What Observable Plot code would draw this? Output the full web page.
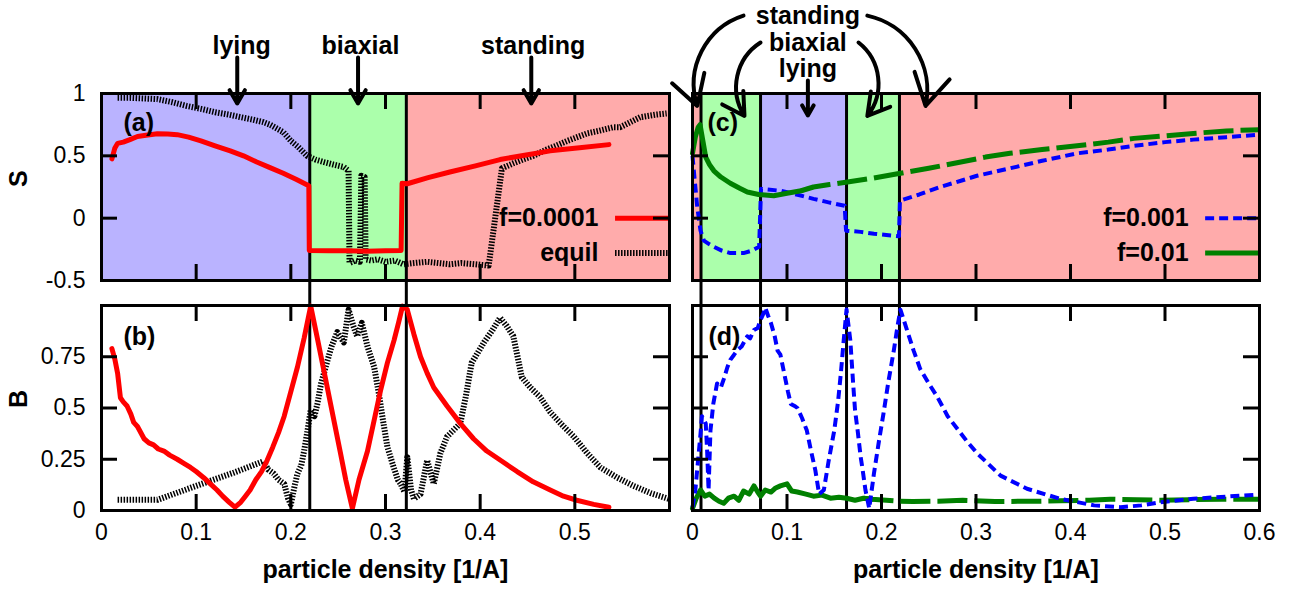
<!DOCTYPE html>
<html><head><meta charset="utf-8">
<script src="https://cdn.jsdelivr.net/npm/d3@7"></script>
<script src="https://cdn.jsdelivr.net/npm/@observablehq/plot@0.6"></script>
<style>
html,body{margin:0;padding:0;background:#fff;}
#fig{position:relative;width:1296px;height:595px;overflow:hidden;background:#fff;}
#fig svg{position:absolute;}
</style></head>
<body><div id="fig"></div>
<script>
// ---------- data ----------
const phaseColors = {lying:"#bab3ff", biaxial:"#abffab", standing:"#ffabab"};
const leftPhases = [{phase:"lying",x1:0,x2:0.22},{phase:"biaxial",x1:0.22,x2:0.322},{phase:"standing",x1:0.322,x2:0.6}];
const rightPhases = [{phase:"standing",x1:0,x2:0.009},{phase:"biaxial",x1:0.009,x2:0.072},{phase:"lying",x1:0.072,x2:0.163},{phase:"biaxial",x1:0.163,x2:0.219},{phase:"standing",x1:0.219,x2:0.6}];
const leftBounds = [0.22, 0.322];
const rightBounds = [0.009, 0.072, 0.163, 0.219];

const xTicksLeft = [0,0.1,0.2,0.3,0.4,0.5];
const xTicksRight = [0,0.1,0.2,0.3,0.4,0.5,0.6];
const sTicks = [-0.5,0,0.5,1];
const bTicks = [0,0.25,0.5,0.75];

// (a) S, f=0.0001
const redS = [[0.011,0.476],[0.014,0.56],[0.017,0.60],[0.023,0.61],[0.030,0.63],[0.038,0.655],[0.047,0.665],[0.059,0.677],[0.070,0.675],[0.080,0.67],[0.092,0.65],[0.105,0.62],[0.120,0.58],[0.136,0.54],[0.150,0.50],[0.164,0.45],[0.178,0.405],[0.192,0.36],[0.206,0.31],[0.219,0.26],[0.2195,-0.26],[0.240,-0.262],[0.260,-0.262],[0.280,-0.265],[0.300,-0.262],[0.3165,-0.26],[0.3175,0.28],[0.323,0.276],[0.345,0.325],[0.368,0.37],[0.395,0.42],[0.421,0.47],[0.447,0.505],[0.474,0.54],[0.505,0.565],[0.536,0.59]];
// (a) S, equil
const equilS = [[0.017,0.965],[0.030,0.965],[0.045,0.96],[0.059,0.955],[0.075,0.93],[0.090,0.90],[0.105,0.877],[0.120,0.85],[0.135,0.83],[0.147,0.81],[0.160,0.79],[0.171,0.77],[0.178,0.75],[0.185,0.72],[0.192,0.69],[0.200,0.62],[0.208,0.57],[0.217,0.50],[0.226,0.47],[0.235,0.45],[0.245,0.43],[0.256,0.41],[0.261,0.38],[0.262,-0.36],[0.268,-0.34],[0.273,-0.35],[0.2745,0.34],[0.278,0.33],[0.279,-0.33],[0.285,-0.34],[0.292,-0.33],[0.300,-0.35],[0.310,-0.34],[0.319,-0.37],[0.330,-0.36],[0.344,-0.35],[0.356,-0.36],[0.368,-0.37],[0.380,-0.36],[0.395,-0.37],[0.409,-0.38],[0.423,0.40],[0.435,0.44],[0.445,0.47],[0.456,0.50],[0.470,0.55],[0.480,0.58],[0.492,0.62],[0.513,0.68],[0.525,0.70],[0.541,0.73],[0.548,0.73],[0.556,0.76],[0.569,0.81],[0.585,0.83],[0.597,0.84]];
// (b) B, f=0.0001
const redB = [[0.011,0.79],[0.014,0.74],[0.017,0.67],[0.020,0.55],[0.023,0.53],[0.027,0.51],[0.031,0.47],[0.034,0.43],[0.038,0.41],[0.045,0.35],[0.050,0.33],[0.055,0.32],[0.060,0.30],[0.066,0.29],[0.072,0.27],[0.080,0.25],[0.087,0.23],[0.094,0.21],[0.100,0.19],[0.108,0.16],[0.115,0.13],[0.122,0.10],[0.128,0.07],[0.135,0.04],[0.141,0.016],[0.147,0.04],[0.152,0.07],[0.157,0.10],[0.163,0.15],[0.169,0.19],[0.175,0.245],[0.181,0.31],[0.187,0.38],[0.193,0.46],[0.200,0.58],[0.207,0.70],[0.214,0.84],[0.221,0.997],[0.228,0.84],[0.235,0.68],[0.242,0.52],[0.252,0.29],[0.258,0.15],[0.265,0.01],[0.272,0.15],[0.281,0.29],[0.288,0.44],[0.295,0.59],[0.302,0.72],[0.309,0.83],[0.314,0.92],[0.318,0.997],[0.323,0.98],[0.330,0.86],[0.337,0.75],[0.344,0.67],[0.351,0.60],[0.365,0.51],[0.379,0.425],[0.393,0.35],[0.407,0.29],[0.423,0.24],[0.439,0.19],[0.456,0.14],[0.474,0.10],[0.488,0.07],[0.502,0.05],[0.520,0.03],[0.536,0.016]];
// (b) B, equil
const equilB = [[0.017,0.052],[0.059,0.052],[0.100,0.12],[0.140,0.185],[0.171,0.24],[0.176,0.20],[0.182,0.18],[0.187,0.15],[0.193,0.13],[0.197,0.06],[0.200,0.03],[0.204,0.12],[0.207,0.18],[0.211,0.22],[0.214,0.29],[0.218,0.40],[0.221,0.49],[0.225,0.46],[0.228,0.52],[0.232,0.62],[0.238,0.72],[0.243,0.80],[0.249,0.87],[0.256,0.82],[0.261,0.98],[0.266,0.90],[0.270,0.85],[0.275,0.915],[0.281,0.80],[0.288,0.70],[0.293,0.57],[0.297,0.45],[0.302,0.31],[0.308,0.22],[0.313,0.15],[0.316,0.13],[0.320,0.09],[0.323,0.26],[0.327,0.10],[0.330,0.057],[0.337,0.08],[0.344,0.245],[0.351,0.13],[0.358,0.28],[0.365,0.36],[0.379,0.425],[0.385,0.56],[0.391,0.72],[0.404,0.82],[0.413,0.88],[0.421,0.94],[0.428,0.90],[0.435,0.85],[0.444,0.65],[0.453,0.60],[0.463,0.555],[0.474,0.48],[0.486,0.42],[0.499,0.36],[0.513,0.28],[0.527,0.21],[0.545,0.16],[0.562,0.12],[0.580,0.085],[0.599,0.057]];
// (c) S, f=0.001
const blueS = [[0,0.50],[0.0014,0.38],[0.005,0.09],[0.0085,-0.10],[0.012,-0.18],[0.018,-0.21],[0.0226,-0.23],[0.031,-0.26],[0.040,-0.28],[0.054,-0.28],[0.063,-0.26],[0.0705,-0.23],[0.0725,0.235],[0.093,0.22],[0.110,0.19],[0.128,0.155],[0.145,0.125],[0.161,0.10],[0.1625,-0.10],[0.178,-0.11],[0.192,-0.125],[0.205,-0.135],[0.2185,-0.145],[0.2195,0.14],[0.240,0.19],[0.262,0.25],[0.284,0.30],[0.301,0.34],[0.336,0.40],[0.370,0.46],[0.407,0.52],[0.440,0.55],[0.467,0.58],[0.500,0.61],[0.530,0.63],[0.565,0.65],[0.600,0.67]];
// (c) S, f=0.01
const greenS = [[0,0.52],[0.003,0.65],[0.006,0.73],[0.008,0.75],[0.011,0.62],[0.014,0.49],[0.018,0.43],[0.0226,0.38],[0.030,0.33],[0.040,0.28],[0.050,0.24],[0.058,0.21],[0.070,0.19],[0.086,0.18],[0.100,0.20],[0.115,0.22],[0.128,0.25],[0.145,0.27],[0.164,0.29],[0.190,0.32],[0.217,0.356],[0.250,0.40],[0.284,0.45],[0.310,0.49],[0.336,0.52],[0.370,0.55],[0.407,0.58],[0.440,0.61],[0.467,0.64],[0.500,0.66],[0.530,0.68],[0.565,0.70],[0.600,0.71]];
// (d) B, f=0.001
const blueB = [[0,0.016],[0.003,0.10],[0.0085,0.375],[0.010,0.46],[0.014,0.425],[0.0155,0.29],[0.017,0.10],[0.019,0.39],[0.022,0.52],[0.026,0.62],[0.030,0.60],[0.033,0.64],[0.037,0.70],[0.040,0.735],[0.044,0.76],[0.047,0.78],[0.052,0.80],[0.058,0.85],[0.061,0.84],[0.065,0.88],[0.069,0.89],[0.072,0.93],[0.075,0.96],[0.077,0.99],[0.080,0.95],[0.083,0.915],[0.087,0.85],[0.090,0.78],[0.093,0.76],[0.097,0.67],[0.101,0.58],[0.104,0.52],[0.108,0.51],[0.111,0.50],[0.116,0.45],[0.121,0.39],[0.125,0.30],[0.130,0.196],[0.134,0.08],[0.139,0.10],[0.144,0.24],[0.150,0.39],[0.154,0.53],[0.157,0.67],[0.160,0.83],[0.163,0.98],[0.167,0.83],[0.170,0.62],[0.172,0.49],[0.175,0.38],[0.178,0.26],[0.180,0.20],[0.183,0.10],[0.187,0.01],[0.192,0.18],[0.197,0.33],[0.202,0.47],[0.207,0.62],[0.213,0.78],[0.217,0.90],[0.220,0.98],[0.227,0.88],[0.234,0.78],[0.241,0.69],[0.250,0.62],[0.259,0.555],[0.270,0.46],[0.280,0.40],[0.290,0.34],[0.301,0.28],[0.326,0.17],[0.354,0.106],[0.389,0.057],[0.425,0.025],[0.453,0.016],[0.475,0.025],[0.495,0.04],[0.530,0.057],[0.565,0.068],[0.600,0.078]];
// (d) B, f=0.01
const greenB = [[0,0.01],[0.004,0.06],[0.0085,0.10],[0.013,0.07],[0.018,0.08],[0.023,0.06],[0.028,0.045],[0.033,0.035],[0.038,0.06],[0.044,0.07],[0.049,0.05],[0.054,0.095],[0.060,0.08],[0.065,0.12],[0.069,0.09],[0.072,0.07],[0.077,0.10],[0.083,0.09],[0.088,0.11],[0.093,0.12],[0.100,0.13],[0.105,0.095],[0.111,0.09],[0.120,0.08],[0.128,0.07],[0.137,0.075],[0.146,0.06],[0.155,0.065],[0.163,0.06],[0.172,0.05],[0.181,0.06],[0.190,0.055],[0.205,0.05],[0.220,0.045],[0.233,0.044],[0.260,0.045],[0.286,0.05],[0.320,0.044],[0.360,0.045],[0.389,0.047],[0.420,0.05],[0.442,0.055],[0.470,0.052],[0.495,0.05],[0.530,0.053],[0.560,0.055],[0.600,0.055]];

// annotations (data units)
const leftPhaseLabels = [{label:"lying",x:0.148},{label:"biaxial",x:0.2735},{label:"standing",x:0.456}];
const leftPhaseArrows = [{x:0.1434},{x:0.271},{x:0.454}];
const rightPhaseLabels = [{label:"standing",y:1.625},{label:"biaxial",y:1.409},{label:"lying",y:1.20}];
const rightLabelX = 0.1221;
const rightArrowsLeft = [{x1:0.054,y1:1.625,x2:0.005,y2:0.90},{x1:0.072,y1:1.409,x2:0.055,y2:0.82}];
const rightArrowsRight = [{x1:0.185,y1:1.625,x2:0.2466,y2:0.90},{x1:0.1757,y1:1.409,x2:0.185,y2:0.82}];
const rightArrowStraight = [{x:0.1221,y1:1.104,y2:0.824}];

const legendLeft = [{label:"f=0.0001",y:0.0,stroke:"#ff0000",width:5,dash:null},{label:"equil",y:-0.28,stroke:"#000",width:6,dash:"1.5,1.5"}];
const legendRight = [{label:"f=0.001",y:0.0,stroke:"#0000ff",width:4,dash:"9,5"},{label:"f=0.01",y:-0.28,stroke:"#008000",width:5,dash:null}];

// ---------- helpers ----------
const FONT = '"Liberation Sans", Arial, Helvetica, sans-serif';
const fig = document.getElementById("fig");
const XY = {x: d => d[0], y: d => d[1]};
const TICK = 16;

// inward ticks on all four sides
function tickMarks(xt, yt, fw, fh) {
  const o = {strokeWidth: 3, stroke: "#000", strokeLinecap: "butt"};
  return [
    Plot.tickX(xt, {...o, x: d => d, insetTop: fh - TICK}),
    Plot.tickX(xt, {...o, x: d => d, insetBottom: fh - TICK}),
    Plot.tickY(yt, {...o, y: d => d, insetRight: fw - TICK}),
    Plot.tickY(yt, {...o, y: d => d, insetLeft: fw - TICK})
  ];
}
function phaseRects(phases) {
  return Object.keys(phaseColors).map(p =>
    Plot.rect(phases.filter(d => d.phase === p), {x1: "x1", x2: "x2", fill: phaseColors[p]}));
}
function legend(entries) {
  return [
    Plot.text(entries, {x: 0.525, y: "y", text: "label", textAnchor: "end", fontWeight: "bold", fontSize: 25}),
    ...entries.map(e => Plot.ruleY([e], {y: "y", x1: 0.543, x2: 0.599, stroke: e.stroke, strokeWidth: e.width, strokeDasharray: e.dash, strokeLinecap: "butt"}))
  ];
}
function panel({left, top, width, height, mt, mb, ml, mr, yDomain, xt, yt, marks}) {
  const fw = width - ml - mr, fh = height - mt - mb;
  const svg = Plot.plot({
    width, height, marginTop: mt, marginBottom: mb, marginLeft: ml, marginRight: mr,
    x: {domain: [0, 0.6], axis: null},
    y: {domain: yDomain, axis: null},
    style: {fontFamily: FONT, fontSize: "23px", background: "transparent", overflow: "visible", color: "#000"},
    marks: [...marks, Plot.frame({strokeWidth: 3}), ...tickMarks(xt, yt, fw, fh)]
  });
  svg.style.position = "absolute";
  svg.style.left = left + "px";
  svg.style.top = top + "px";
  fig.appendChild(svg);
}
const arrowStyle = {stroke: "#000", strokeWidth: 4, headLength: 14, headAngle: 60};
const bold = {fontWeight: "bold", fontSize: 25};

// ---------- (a) ----------
panel({left: 0, top: 0, width: 680, height: 292, mt: 93, mb: 12, ml: 101, mr: 11, yDomain: [-0.5, 1], xt: xTicksLeft, yt: sTicks, marks: [
  ...phaseRects(leftPhases),
  Plot.ruleX(leftBounds, {strokeWidth: 3, insetBottom: -12}),
  Plot.line(equilS, {...XY, stroke: "#000", strokeWidth: 6, strokeDasharray: "1.5,1.5", strokeLinecap: "butt"}),
  Plot.line(redS, {...XY, stroke: "#ff0000", strokeWidth: 5}),
  Plot.axisY({ticks: sTicks, anchor: "left", tickSize: 0, tickPadding: 16, tickFormat: d => String(d), fontSize: 23, label: null}),
  Plot.text(["S"], {text: d => d, frameAnchor: "left", dx: -83, rotate: -90, ...bold}),
  Plot.text(["(a)"], {text: d => d, frameAnchor: "top-left", dx: 22, dy: 20, textAnchor: "start", ...bold}),
  ...legend(legendLeft),
  Plot.text(leftPhaseLabels, {x: "x", y: 1.385, text: "label", ...bold}),
  Plot.arrow(leftPhaseArrows, {x: "x", y1: 1.289, y2: 0.92, ...arrowStyle})
]});

// ---------- (b) ----------
panel({left: 0, top: 292, width: 680, height: 303, mt: 13, mb: 85, ml: 101, mr: 11, yDomain: [0, 1], xt: xTicksLeft, yt: bTicks, marks: [
  Plot.ruleX(leftBounds, {strokeWidth: 3, insetTop: -13}),
  Plot.line(equilB, {...XY, stroke: "#000", strokeWidth: 6, strokeDasharray: "1.5,1.5", strokeLinecap: "butt"}),
  Plot.line(redB, {...XY, stroke: "#ff0000", strokeWidth: 5}),
  Plot.axisY({ticks: bTicks, anchor: "left", tickSize: 0, tickPadding: 16, tickFormat: d => String(d), fontSize: 23, label: null}),
  Plot.axisX({ticks: xTicksLeft, anchor: "bottom", tickSize: 0, tickPadding: 13, tickFormat: d => String(d), fontSize: 23, label: null}),
  Plot.text(["B"], {text: d => d, frameAnchor: "left", dx: -83, rotate: -90, ...bold}),
  Plot.text(["(b)"], {text: d => d, frameAnchor: "top-left", dx: 22, dy: 22, textAnchor: "start", ...bold}),
  Plot.text(["particle density [1/A]"], {text: d => d, frameAnchor: "bottom", dy: 67, ...bold})
]});

// ---------- (c) ----------
panel({left: 680, top: 0, width: 616, height: 292, mt: 93, mb: 12, ml: 12, mr: 37, yDomain: [-0.5, 1], xt: xTicksRight, yt: sTicks, marks: [
  ...phaseRects(rightPhases),
  Plot.ruleX(rightBounds, {strokeWidth: 3, insetBottom: -12}),
  Plot.line(blueS, {...XY, stroke: "#0000ff", strokeWidth: 4, strokeDasharray: "9,5", strokeLinecap: "butt"}),
  Plot.line(greenS.filter(d => d[0] <= 0.12), {...XY, stroke: "#008000", strokeWidth: 5}),
  Plot.line(greenS.filter(d => d[0] >= 0.115), {...XY, stroke: "#008000", strokeWidth: 5, strokeDasharray: "30,7", strokeLinecap: "butt"}),
  Plot.text(["(c)"], {text: d => d, frameAnchor: "top-left", dx: 15, dy: 20, textAnchor: "start", ...bold}),
  ...legend(legendRight),
  Plot.text(rightPhaseLabels, {x: rightLabelX, y: "y", text: "label", ...bold}),
  Plot.arrow(rightArrowsLeft, {x1: "x1", y1: "y1", x2: "x2", y2: "y2", bend: -45, ...arrowStyle}),
  Plot.arrow(rightArrowsRight, {x1: "x1", y1: "y1", x2: "x2", y2: "y2", bend: 45, ...arrowStyle}),
  Plot.arrow(rightArrowStraight, {x: "x", y1: "y1", y2: "y2", ...arrowStyle})
]});

// ---------- (d) ----------
panel({left: 680, top: 292, width: 616, height: 303, mt: 13, mb: 85, ml: 12, mr: 37, yDomain: [0, 1], xt: xTicksRight, yt: bTicks, marks: [
  Plot.ruleX(rightBounds, {strokeWidth: 3, insetTop: -13}),
  Plot.line(greenB.filter(d => d[0] <= 0.19), {...XY, stroke: "#008000", strokeWidth: 5}),
  Plot.line(greenB.filter(d => d[0] >= 0.181), {...XY, stroke: "#008000", strokeWidth: 5, strokeDasharray: "30,7", strokeLinecap: "butt"}),
  Plot.line(blueB, {...XY, stroke: "#0000ff", strokeWidth: 4, strokeDasharray: "9,5", strokeLinecap: "butt"}),
  Plot.axisX({ticks: xTicksRight, anchor: "bottom", tickSize: 0, tickPadding: 13, tickFormat: d => String(d), fontSize: 23, label: null}),
  Plot.text(["(d)"], {text: d => d, frameAnchor: "top-left", dx: 16, dy: 22, textAnchor: "start", ...bold}),
  Plot.text(["particle density [1/A]"], {text: d => d, frameAnchor: "bottom", dy: 67, ...bold})
]});
</script>
</body></html>
